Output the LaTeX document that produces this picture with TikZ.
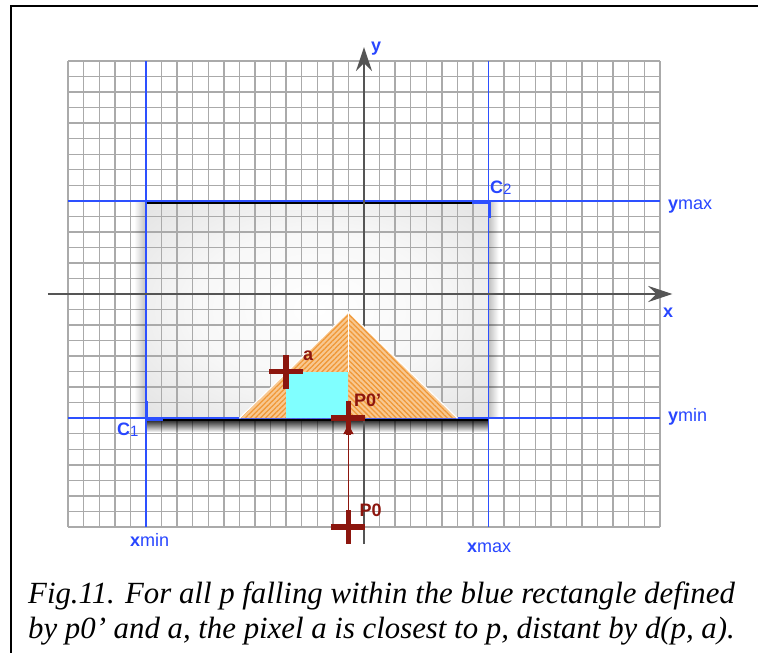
\documentclass[tikz,border=0pt]{standalone}
\usepackage{fontspec}
\setmainfont{Liberation Serif}
\setsansfont{Liberation Sans}
\usetikzlibrary{arrows.meta,patterns.meta,fadings}

\definecolor{gridgray}{RGB}{170,170,170}
\definecolor{axisgray}{RGB}{85,85,85}
\definecolor{lineblue}{RGB}{45,80,255}
\definecolor{labelblue}{RGB}{40,70,255}
\definecolor{darkred}{RGB}{140,22,14}
\definecolor{triorange}{RGB}{248,200,145}
\definecolor{stripeorange}{RGB}{240,152,55}
\definecolor{aqua}{RGB}{128,255,255}

\tikzfading[name=fadedown, top color=transparent!0, bottom color=transparent!100]
\tikzfading[name=fadeleft, right color=transparent!0, left color=transparent!100]
\tikzfading[name=faderight, left color=transparent!0, right color=transparent!100]

\pgfdeclareradialshading{rectshade}{\pgfpoint{0bp}{0bp}}{color(0bp)=(white); color(18bp)=(white!97!black); color(50bp)=(white!82!black); color(75bp)=(white!76!black)}

\tikzset{
  gridline/.style={draw=gridgray, line width=1.4pt},
  bluelbl/.style={font=\sffamily\fontsize{18}{18}\selectfont, text=labelblue, inner sep=0pt, anchor=base west},
  redlbl/.style={font=\sffamily\bfseries\fontsize{18}{18}\selectfont, text=darkred, inner sep=0pt, anchor=base west},
  crossbar/.style={draw=darkred, line width=5.5pt},
  blueline/.style={draw=lineblue, line width=1.5pt},
  bracket/.style={draw=lineblue, line width=3.5pt},
  axisline/.style={draw=axisgray, line width=2pt, -{Stealth[length=24pt,width=16pt,inset=8pt]}},
  caption/.style={font=\itshape\fontsize{30.8}{35}\selectfont, inner sep=0pt, anchor=base west}
}

\begin{document}
\begin{tikzpicture}
\useasboundingbox (0,0) rectangle (758pt,-653pt);
% frame
\draw[line width=2pt] (11pt,-653pt) -- (11pt,-6pt) -- (758pt,-6pt);

\begin{scope}[shift={(364pt,-294pt)}, x=15.57pt, y=15.53pt]
  \coordinate (C1) at (-14,-8);
  \coordinate (C2) at (8,6);
  \coordinate (BR) at (8,-8);
  \coordinate (TLc) at (-14,6);
  \coordinate (a) at (-5,-5);
  \coordinate (P0p) at (-1,-8);
  \coordinate (P0) at (-1,-15);
  \coordinate (TA) at (-1,-1.15);
  \coordinate (TL) at (-8,-8);
  \coordinate (TR) at (6,-8);
  \coordinate (CY) at (-5,-8);

  % shaded rectangle
  \shade[shading=rectshade] (C1) rectangle (C2);
  % grid
  \foreach \i in {-19,...,19} \draw[gridline] (\i,-15) -- (\i,15);
  \foreach \j in {-15,...,15} \draw[gridline] (-19,\j) -- (19,\j);
  % shadows
  \fill[black, opacity=0.9, path fading=fadedown] ([yshift=-1pt]C1) rectangle ([yshift=-14pt]BR);
  \fill[black, opacity=0.25, path fading=fadeleft] ([xshift=-12pt]TLc) rectangle (C1);
  \fill[black, opacity=0.25, path fading=faderight] (C2) rectangle ([xshift=10pt]BR);
  % rectangle dark edges
  \draw[black, line width=1.6pt] ([yshift=-2pt]TLc) -- ([yshift=-2pt]C2);
  \draw[black, line width=1.6pt] ([yshift=-2pt]C1) -- ([yshift=-2pt]BR);

  % blue limit lines
  \draw[blueline] (-14,-15) -- (-14,15);
  \draw[blueline] (8,-15) -- (8,15);
  \draw[blueline] (-19,6) -- (19,6);
  \draw[blueline] (-19,-8) -- (19,-8);
  % corner brackets
  \draw[bracket] ([xshift=-17pt,yshift=-1pt]C2) -- ([xshift=1pt,yshift=-1pt]C2) -- ([xshift=1pt,yshift=-17pt]C2);
  \draw[bracket] ([xshift=0.5pt,yshift=17pt]C1) -- ([xshift=0.5pt,yshift=-1.5pt]C1) -- ([xshift=17pt,yshift=-1.5pt]C1);

  % axes
  \draw[axisline] (-20.3,0) -- (19.8,0);
  \draw[axisline] (0,-16.1) -- (0,15.9);

  % triangle
  \fill[triorange] (TL) -- (TA) -- (TR) -- cycle;
  \fill[pattern={Lines[angle=45,distance=3.6pt,line width=1.3pt]}, pattern color=stripeorange] (TL) -- (TA) -- (P0p) -- cycle;
  \fill[pattern={Lines[angle=-45,distance=3.6pt,line width=1.3pt]}, pattern color=stripeorange] (P0p) -- (TA) -- (TR) -- cycle;
  % cyan rectangle
  \fill[aqua] (CY) rectangle (-1,-5);
  \draw[white, line width=1.2pt, line join=round] (TL) -- (TA) -- (TR);
  \draw[white, line width=1.2pt] (TA) -- (-1,-5);

  % arrow P0 -> P0'
  \draw[darkred, line width=1.5pt, -{Latex[length=12pt,width=11pt]}, shorten >=4pt] (P0) -- (P0p);
  % crosses
  \foreach \p in {a,P0p,P0}{
    \draw[crossbar] ([xshift=-17pt]\p) -- ([xshift=17pt]\p) ([yshift=-17pt]\p) -- ([yshift=17pt]\p);
  }
\end{scope}

% blue labels
\node[bluelbl] (ly) at (371pt,-51pt) {\bfseries y};
\node[bluelbl] (lx) at (663pt,-317pt) {\bfseries x};
\node[bluelbl] (lc2) at (490pt,-193pt) {\bfseries C\fontsize{15}{15}\selectfont\mdseries\raisebox{-1.5pt}{2}};
\node[bluelbl] (lc1) at (117pt,-435pt) {\bfseries C\fontsize{15}{15}\selectfont\mdseries\raisebox{-1.5pt}{1}};
\node[bluelbl] (lymax) at (668pt,-209pt) {\textbf{y}max};
\node[bluelbl] (lymin) at (668pt,-421pt) {\textbf{y}min};
\node[bluelbl] (lxmin) at (130pt,-546pt) {\textbf{x}min};
\node[bluelbl] (lxmax) at (467pt,-552pt) {\textbf{x}max};

% red labels
\node[redlbl] (la) at (303pt,-360pt) {a};
\node[redlbl] (lp0p) at (354pt,-406.5pt) {P0’};
\node[redlbl] (lp0) at (359.5pt,-516pt) {P0};

% caption
\node[caption] (cap1) at (28pt,-603pt) {Fig.11. For all p falling within the blue rectangle defined};
\node[caption] (cap2) at (28pt,-638pt) {by p0’ and a, the pixel a is closest to p, distant by d(p, a).};
\end{tikzpicture}
\end{document}
